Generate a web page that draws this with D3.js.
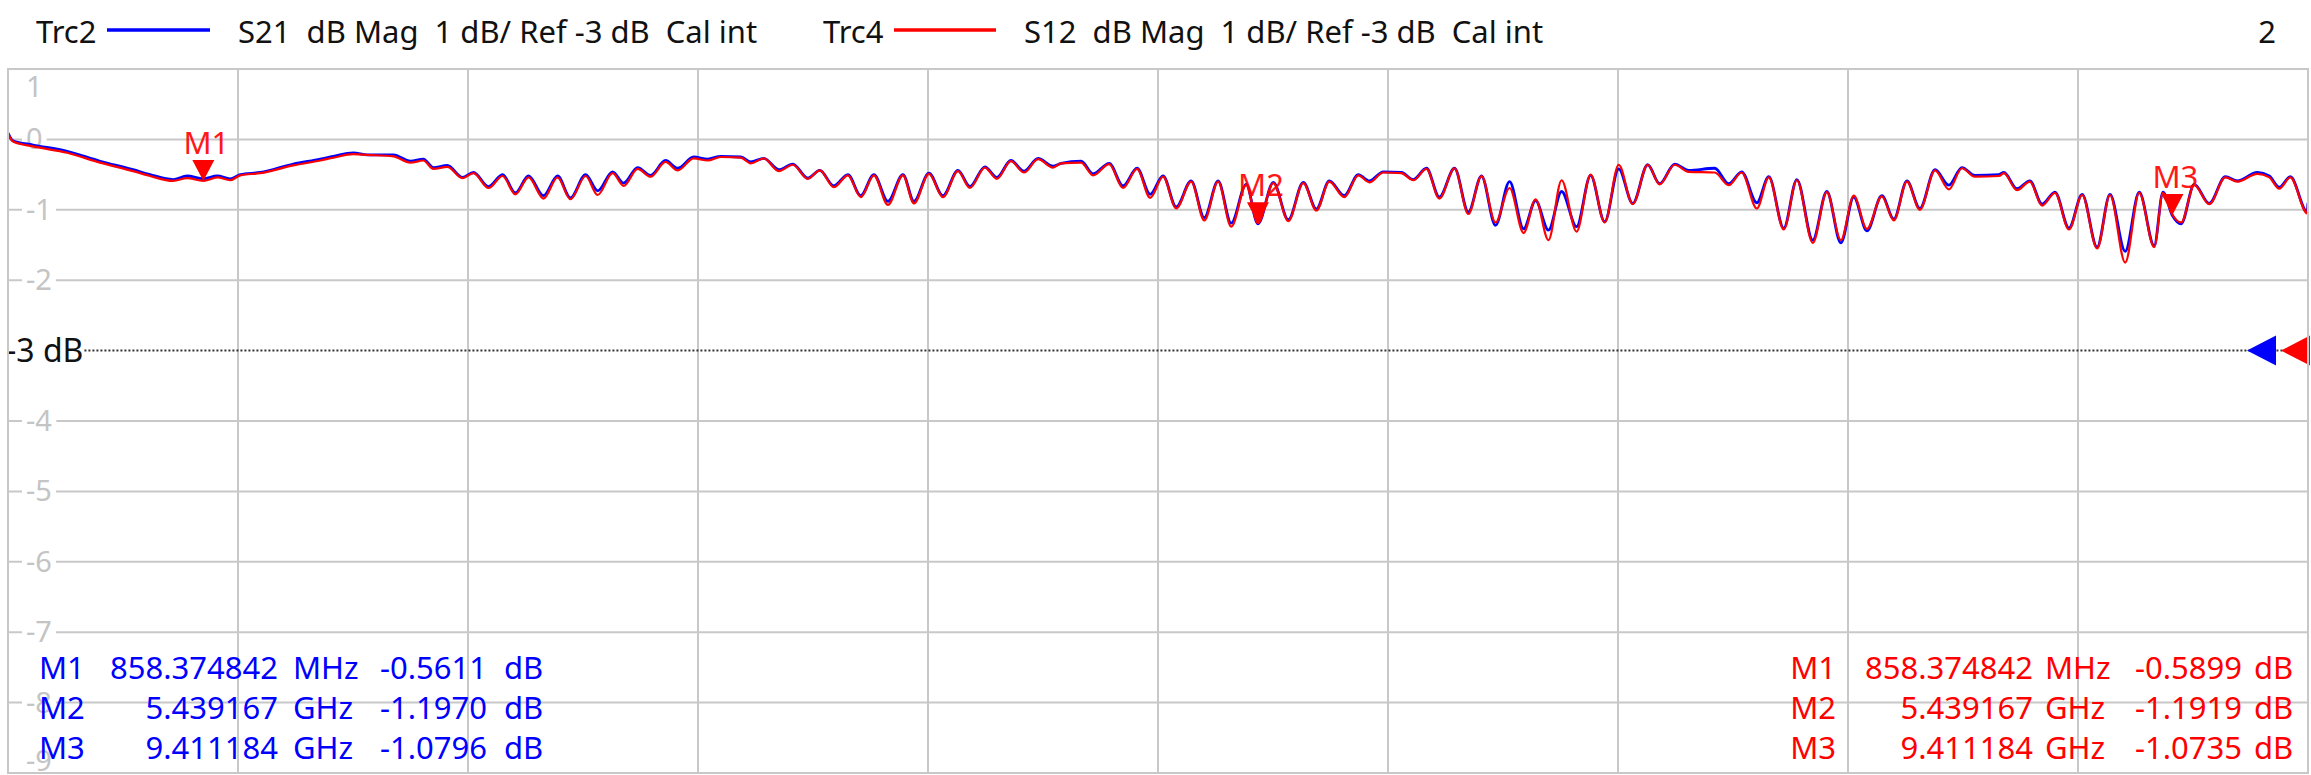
<!DOCTYPE html>
<html>
<head>
<meta charset="utf-8">
<script src="https://cdn.jsdelivr.net/npm/d3@7"></script>
<style>
  html, body { margin: 0; padding: 0; background: #ffffff; }
  svg { display: block; }
  text { font-family: "Noto Sans", "Open Sans", sans-serif; white-space: pre; }
</style>
</head>
<body>
<div id="chart"></div>
<script>
// ---------------- data ----------------
const freqGHz = [
  0.010, 0.032, 0.119, 0.267, 0.410, 0.553, 0.627, 0.727, 0.788, 0.858,
  0.919, 0.975, 1.019, 1.106, 1.249, 1.367, 1.423, 1.510, 1.571, 1.684,
  1.758, 1.814, 1.858, 1.918, 1.984, 2.032, 2.097, 2.158, 2.214, 2.271,
  2.336, 2.397, 2.453, 2.519, 2.571, 2.636, 2.684, 2.745, 2.801, 2.866,
  2.919, 2.988, 3.049, 3.106, 3.193, 3.236, 3.293, 3.358, 3.419, 3.484,
  3.536, 3.597, 3.658, 3.714, 3.771, 3.832, 3.897, 3.945, 4.010, 4.071,
  4.136, 4.188, 4.253, 4.305, 4.366, 4.423, 4.484, 4.549, 4.584, 4.671,
  4.723, 4.793, 4.853, 4.914, 4.971, 5.027, 5.084, 5.149, 5.206, 5.266,
  5.323, 5.388, 5.439, 5.506, 5.571, 5.636, 5.693, 5.749, 5.814, 5.875,
  5.923, 5.984, 6.062, 6.114, 6.171, 6.227, 6.293, 6.353, 6.410, 6.471,
  6.532, 6.593, 6.645, 6.701, 6.758, 6.823, 6.884, 6.945, 7.006, 7.067,
  7.132, 7.184, 7.249, 7.310, 7.423, 7.484, 7.540, 7.606, 7.658, 7.723,
  7.780, 7.849, 7.910, 7.971, 8.027, 8.084, 8.149, 8.201, 8.258, 8.314,
  8.380, 8.440, 8.497, 8.553, 8.658, 8.679, 8.736, 8.792, 8.845, 8.901,
  8.962, 9.019, 9.084, 9.140, 9.206, 9.267, 9.332, 9.370, 9.411, 9.449,
  9.506, 9.571, 9.641, 9.693, 9.780, 9.832, 9.875, 9.923, 9.997, 10.000
];
const s21dB = [
   0.09, -0.02, -0.08, -0.17, -0.31, -0.43, -0.50, -0.57, -0.52, -0.56,
  -0.52, -0.56, -0.50, -0.47, -0.35, -0.28, -0.24, -0.19, -0.22, -0.22,
  -0.31, -0.28, -0.40, -0.37, -0.54, -0.47, -0.67, -0.50, -0.76, -0.52,
  -0.80, -0.52, -0.83, -0.50, -0.73, -0.46, -0.62, -0.40, -0.51, -0.30,
  -0.41, -0.25, -0.28, -0.24, -0.25, -0.32, -0.27, -0.43, -0.35, -0.55,
  -0.44, -0.66, -0.50, -0.80, -0.50, -0.88, -0.50, -0.88, -0.48, -0.80,
  -0.44, -0.67, -0.39, -0.54, -0.30, -0.45, -0.27, -0.38, -0.34, -0.31,
  -0.49, -0.34, -0.66, -0.41, -0.78, -0.52, -0.96, -0.59, -1.11, -0.59,
  -1.19, -0.64, -1.20, -0.61, -1.14, -0.61, -0.99, -0.59, -0.80, -0.50,
  -0.59, -0.46, -0.47, -0.57, -0.41, -0.82, -0.41, -1.03, -0.52, -1.22,
  -0.60, -1.27, -0.87, -1.29, -0.74, -1.24, -0.51, -1.17, -0.42, -0.91,
  -0.36, -0.63, -0.35, -0.44, -0.41, -0.63, -0.46, -0.90, -0.53, -1.26,
  -0.57, -1.43, -0.74, -1.47, -0.82, -1.30, -0.80, -1.13, -0.59, -0.98,
  -0.43, -0.65, -0.40, -0.51, -0.50, -0.47, -0.70, -0.59, -0.92, -0.75,
  -1.26, -0.78, -1.53, -0.78, -1.59, -0.75, -1.51, -0.75, -1.08, -1.20,
  -0.64, -0.91, -0.53, -0.59, -0.47, -0.52, -0.68, -0.53, -1.03, -0.90
];
const s12dB = [
   0.08, -0.03, -0.10, -0.19, -0.33, -0.45, -0.52, -0.59, -0.55, -0.59,
  -0.54, -0.58, -0.51, -0.48, -0.37, -0.30, -0.26, -0.21, -0.22, -0.24,
  -0.33, -0.30, -0.42, -0.39, -0.55, -0.48, -0.69, -0.52, -0.78, -0.54,
  -0.84, -0.54, -0.85, -0.52, -0.79, -0.48, -0.66, -0.42, -0.53, -0.32,
  -0.44, -0.27, -0.30, -0.25, -0.26, -0.34, -0.27, -0.45, -0.36, -0.56,
  -0.44, -0.68, -0.51, -0.82, -0.51, -0.93, -0.51, -0.91, -0.49, -0.82,
  -0.45, -0.69, -0.40, -0.56, -0.31, -0.47, -0.28, -0.40, -0.34, -0.33,
  -0.51, -0.35, -0.69, -0.42, -0.83, -0.53, -0.98, -0.60, -1.15, -0.60,
  -1.24, -0.65, -1.19, -0.62, -1.16, -0.62, -1.01, -0.60, -0.82, -0.51,
  -0.61, -0.47, -0.48, -0.58, -0.42, -0.84, -0.41, -1.06, -0.52, -1.18,
  -0.69, -1.33, -0.85, -1.43, -0.58, -1.31, -0.50, -1.18, -0.36, -0.92,
  -0.36, -0.64, -0.36, -0.46, -0.47, -0.65, -0.47, -0.98, -0.54, -1.28,
  -0.58, -1.47, -0.75, -1.43, -0.80, -1.27, -0.81, -1.15, -0.60, -1.00,
  -0.44, -0.71, -0.41, -0.53, -0.52, -0.48, -0.72, -0.60, -0.94, -0.76,
  -1.28, -0.79, -1.55, -0.79, -1.75, -0.76, -1.53, -0.76, -1.07, -1.18,
  -0.65, -0.92, -0.54, -0.60, -0.49, -0.54, -0.70, -0.54, -1.05, -0.92
];

const yTickValues = [1, 0, -1, -2, -4, -5, -6, -7, -8, -9];
const refLevelDb = -3;
const refLabel = "-3 dB";

const markerNames = ["M1", "M2", "M3"];
const markerFreqGHz = [0.858374842, 5.439167, 9.411184];
const markerFreqText = ["858.374842", "5.439167", "9.411184"];
const markerUnitText = ["MHz", "GHz", "GHz"];
const s21MarkerDb = [-0.5611, -1.1970, -1.0796];
const s12MarkerDb = [-0.5899, -1.1919, -1.0735];

const trc2Label = "Trc2";
const trc2Info = "S21  dB Mag  1 dB/ Ref -3 dB  Cal int";
const trc4Label = "Trc4";
const trc4Info = "S12  dB Mag  1 dB/ Ref -3 dB  Cal int";
const channelLabel = "2";

const freqStart = 0.01, freqStop = 10;
const dbTop = 1, dbBottom = -9;

// ---------------- layout ----------------
const W = 2311, H = 775;
const plot = { left: 8, right: 2308, top: 69, bottom: 773 };
const BLUE = "#0000ff", RED = "#ff0000", GRID = "#c8c8c8";

const svg = d3.select("#chart").append("svg")
  .attr("width", W).attr("height", H)
  .attr("viewBox", `0 0 ${W} ${H}`);

const x = d3.scaleLinear().domain([freqStart, freqStop]).range([plot.left, plot.right]);
const y = d3.scaleLinear().domain([dbBottom, dbTop]).range([plot.bottom, plot.top]);

// grid
const gGrid = svg.append("g");
const xGrid = d3.range(11).map(i => freqStart + i * (freqStop - freqStart) / 10);
gGrid.selectAll("line.v").data(xGrid).join("line")
  .attr("x1", d => x(d)).attr("x2", d => x(d))
  .attr("y1", plot.top).attr("y2", plot.bottom)
  .attr("stroke", GRID).attr("stroke-width", 2);
const yGrid = d3.range(dbBottom, dbTop + 1).filter(d => d !== refLevelDb);
gGrid.selectAll("line.h").data(yGrid).join("line")
  .attr("x1", plot.left).attr("x2", plot.right)
  .attr("y1", d => y(d)).attr("y2", d => y(d))
  .attr("stroke", GRID).attr("stroke-width", 2);

// y tick labels (gray, inside plot)
const gYbg = svg.append("g");
const gY = svg.append("g");
yTickValues.forEach(v => {
  let cy = y(v);
  if (v === dbTop) cy = y(v) + 18;
  if (v === dbBottom) cy = y(v) - 12;
  const t = gY.append("text")
    .attr("x", 26).attr("y", cy + 10)
    .attr("font-size", 29).attr("fill", "#c4c4c4")
    .text(String(v));
  if (v !== dbTop && v !== dbBottom) {
    const bb = t.node().getBBox();
    gYbg.append("rect")
      .attr("x", bb.x - 4).attr("y", y(v) - 3)
      .attr("width", bb.width + 8).attr("height", 6)
      .attr("fill", "#ffffff");
  }
});

// reference level line
const gRefBg = svg.append("g");
const refText = svg.append("text")
  .attr("x", 6).attr("y", y(refLevelDb) + 11)
  .attr("font-size", 32).attr("fill", "#111")
  .text(refLabel);
const refBB = refText.node().getBBox();
gRefBg.append("rect")
  .attr("x", refBB.x).attr("y", refBB.y).attr("width", refBB.width + 2).attr("height", refBB.height)
  .attr("fill", "#fff");
svg.append("line")
  .attr("x1", refBB.x + refBB.width + 1).attr("x2", plot.right)
  .attr("y1", y(refLevelDb)).attr("y2", y(refLevelDb))
  .attr("stroke", "#333").attr("stroke-width", 2).attr("stroke-dasharray", "2,2");

// reference arrows
function leftArrow(tipX, color) {
  const cy = y(refLevelDb);
  svg.append("path")
    .attr("d", `M${tipX},${cy} L${tipX + 29},${cy - 15} L${tipX + 29},${cy + 15} Z`)
    .attr("fill", color);
}
leftArrow(2247, BLUE);
leftArrow(2281, RED);

// traces
const line = d3.line().x(d => x(d[0])).y(d => y(d[1])).curve(d3.curveMonotoneX);
svg.append("clipPath").attr("id", "plotclip").append("rect")
  .attr("x", plot.left).attr("y", plot.top)
  .attr("width", plot.right - plot.left).attr("height", plot.bottom - plot.top);
const gTr = svg.append("g").attr("clip-path", "url(#plotclip)");
gTr.append("path").datum(d3.zip(freqGHz, s21dB))
  .attr("d", line).attr("fill", "none").attr("stroke", BLUE)
  .attr("stroke-width", 2.8).attr("stroke-linejoin", "round");
gTr.append("path").datum(d3.zip(freqGHz, s12dB))
  .attr("d", line).attr("fill", "none").attr("stroke", RED)
  .attr("stroke-width", 2.2).attr("stroke-linejoin", "round");

// markers (active trace Trc4 drawn on top)
markerNames.forEach((m, i) => {
  const mx = x(markerFreqGHz[i]);
  const my = y(s12MarkerDb[i]);
  svg.append("path")
    .attr("d", `M${mx - 11},${my - 21} L${mx + 11},${my - 21} L${mx},${my} Z`)
    .attr("fill", RED);
  svg.append("text")
    .attr("x", mx + 3).attr("y", my - 27)
    .attr("text-anchor", "middle")
    .attr("font-size", 31).attr("fill", RED)
    .attr("opacity", 0.9)
    .text(m);
});

// marker tables
const rowBase = [679, 719, 759];
function table(cols, color, vals, nameAnchor) {
  const g = svg.append("g").attr("fill", color).attr("font-size", 31);
  markerNames.forEach((m, i) => {
    g.append("text").attr("x", cols.name).attr("y", rowBase[i])
      .attr("text-anchor", nameAnchor).text(m);
    g.append("text").attr("x", cols.freqRight).attr("y", rowBase[i])
      .attr("text-anchor", "end").text(markerFreqText[i]);
    g.append("text").attr("x", cols.unit).attr("y", rowBase[i])
      .text(markerUnitText[i]);
    g.append("text").attr("x", cols.valRight).attr("y", rowBase[i])
      .attr("text-anchor", "end").text(vals[i].toFixed(4));
    g.append("text").attr("x", cols.db).attr("y", rowBase[i])
      .text("dB");
  });
}
table({ name: 39, freqRight: 278, unit: 293, valRight: 487, db: 504 }, BLUE, s21MarkerDb, "start");
table({ name: 1836, freqRight: 2033, unit: 2045, valRight: 2242, db: 2254 }, RED, s12MarkerDb, "end");

// header
const hy = 43;
svg.append("text").attr("x", 36).attr("y", hy).attr("font-size", 31).attr("fill", "#111").text(trc2Label);
svg.append("line").attr("x1", 107).attr("x2", 210).attr("y1", 30).attr("y2", 30)
  .attr("stroke", BLUE).attr("stroke-width", 3.5);
svg.append("text").attr("x", 238).attr("y", hy).attr("font-size", 31).attr("fill", "#111").text(trc2Info);
svg.append("text").attr("x", 823).attr("y", hy).attr("font-size", 31).attr("fill", "#111").text(trc4Label);
svg.append("line").attr("x1", 894).attr("x2", 996).attr("y1", 30).attr("y2", 30)
  .attr("stroke", RED).attr("stroke-width", 3.5);
svg.append("text").attr("x", 1024).attr("y", hy).attr("font-size", 31).attr("fill", "#111").text(trc4Info);
svg.append("text").attr("x", 2276).attr("y", hy).attr("text-anchor", "end")
  .attr("font-size", 31).attr("fill", "#111").text(channelLabel);

// frame on top
svg.append("rect").attr("x", plot.left).attr("y", plot.top)
  .attr("width", plot.right - plot.left).attr("height", plot.bottom - plot.top)
  .attr("fill", "none").attr("stroke", GRID).attr("stroke-width", 2);
</script>
</body>
</html>
